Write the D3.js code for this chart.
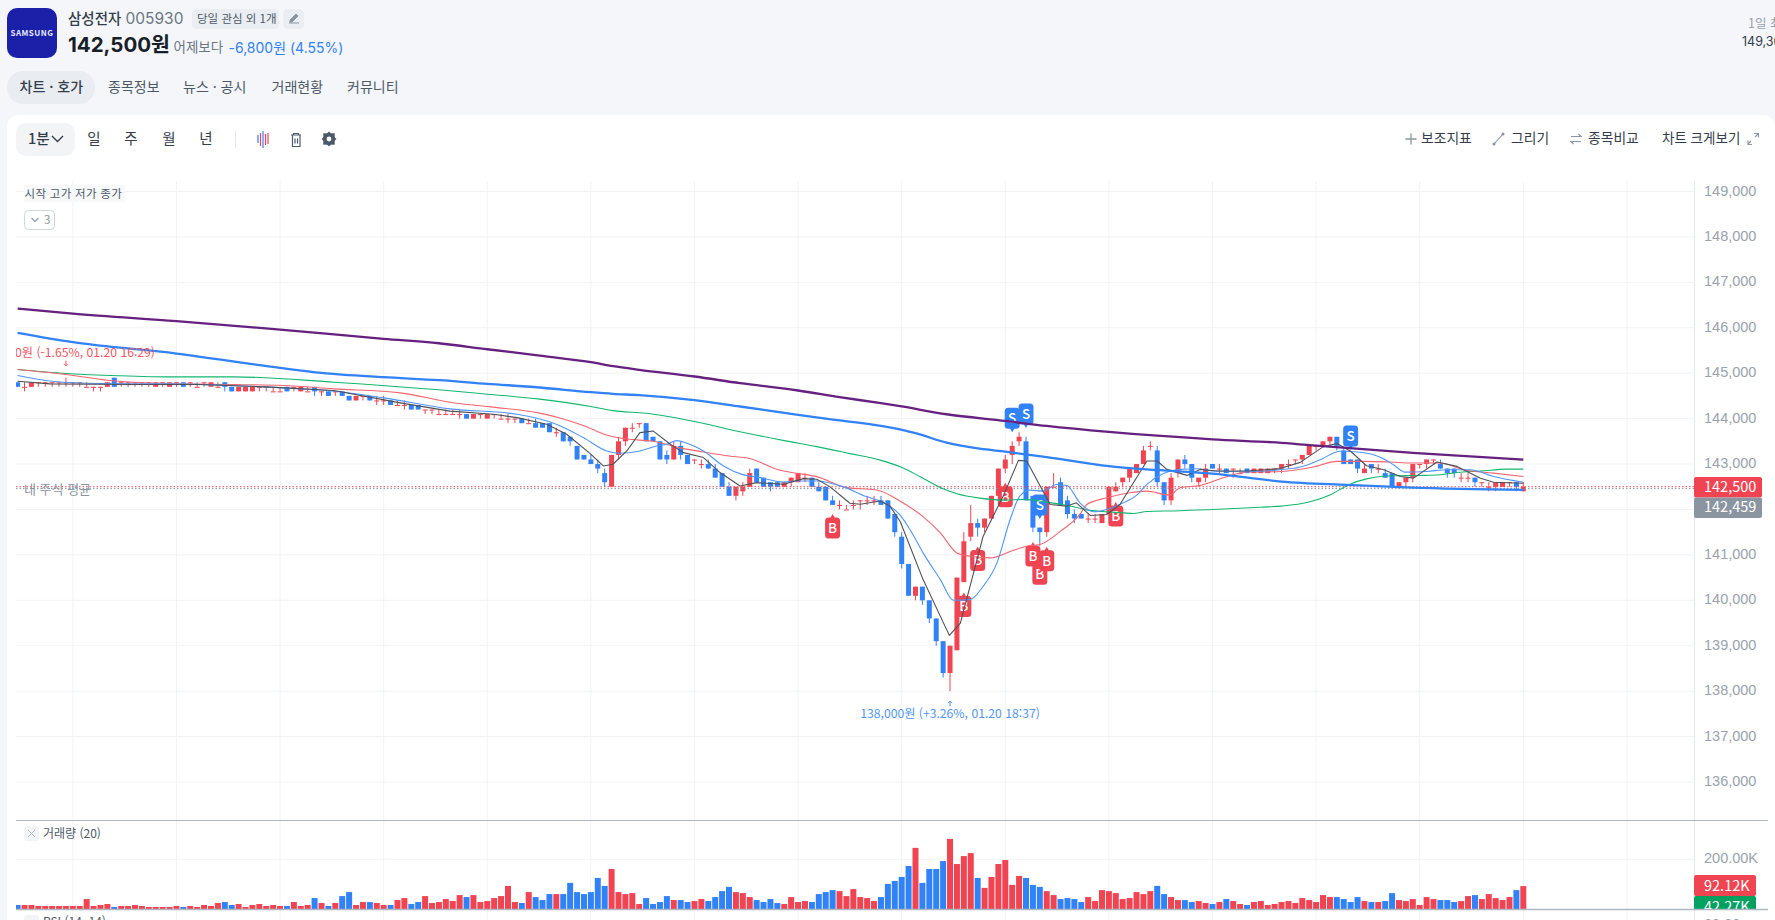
<!DOCTYPE html>
<html lang="ko">
<head>
<meta charset="utf-8">
<title>삼성전자 차트</title>
<script src="https://cdnjs.cloudflare.com/ajax/libs/d3/7.8.5/d3.min.js"></script>
<style>
html,body{margin:0;padding:0;background:#f4f6f9;overflow:hidden}
svg{display:block;font-family:"Noto Sans CJK KR","Noto Sans",sans-serif}
.latin{font-family:Inter,"Noto Sans CJK KR",sans-serif}
</style>
</head>
<body>
<div id="chart"></div>
<script>
// One-minute candles, oldest first
const opens = [
144800,144700,144700,144800,144800,144800,144800,144800,144800,144800,
144700,144700,144700,144700,144900,144800,144800,144800,144800,144800,
144700,144800,144700,144800,144800,144800,144700,144800,144700,144700,
144800,144700,144600,144600,144600,144700,144700,144600,144600,144700,
144700,144600,144600,144700,144600,144600,144600,144600,144500,144400,
144500,144500,144400,144400,144400,144300,144300,144300,144300,144200,
144200,144100,144100,144100,144100,144100,144000,144100,144000,144100,
144000,144000,144000,144000,143900,143900,143900,143900,143700,143700,
143600,143400,143200,143100,143000,142800,142500,143200,143500,143800,
143900,143900,143600,143500,143200,143100,143400,143200,143100,143000,
143000,142900,142800,142500,142300,142400,142500,142900,142700,142600,
142600,142500,142600,142600,142700,142700,142500,142500,142200,142100,
142000,142100,142200,142200,142200,142200,142200,141900,141400,140800,
140100,140300,140000,139600,139100,138400,138900,140400,141400,141700,
141600,141800,142300,142900,143200,143500,143500,142300,141600,141500,
142500,142600,142200,141900,141900,141800,141800,141700,141900,142400,
142600,142700,142800,143000,143400,143300,142600,142200,142800,143100,
143000,142600,142700,143000,142900,142900,142900,142800,142900,142800,
142800,142800,142900,142900,143000,143100,143100,143200,143400,143400,
143500,143600,143300,143100,143100,142800,143000,142900,142800,142800,
142500,142600,142700,143000,143000,143100,143000,142900,142900,142700,
142700,142700,142600,142500,142500,142500,142600,142600,142400];
const highs = [
144800,144800,144800,144800,144800,144800,144800,144900,144800,144800,
144800,144700,144700,144800,144900,144800,144800,144800,144800,144800,
144800,144800,144800,144800,144800,144800,144800,144800,144800,144800,
144800,144700,144700,144700,144700,144700,144700,144700,144700,144700,
144700,144700,144700,144700,144600,144600,144600,144600,144500,144500,
144500,144500,144500,144500,144400,144400,144400,144300,144300,144200,
144200,144200,144200,144200,144200,144100,144100,144100,144100,144100,
144100,144100,144000,144000,144000,144000,143900,143900,143800,143700,
143600,143400,143200,143200,143100,142900,143200,143600,143800,143900,
143900,143900,143600,143500,143300,143500,143500,143200,143100,143100,
143100,143000,142800,142600,142500,142600,142900,142900,142700,142600,
142600,142600,142700,142800,142800,142700,142600,142500,142300,142200,
142100,142200,142200,142300,142300,142300,142200,141900,141500,140800,
140300,140300,140000,139600,139100,139000,140500,141500,142100,141800,
141800,142300,142900,143200,143500,143700,143600,142300,141600,142500,
142800,142700,142300,142000,141900,141900,141900,141900,142500,142600,
142700,142900,143000,143400,143500,143400,142600,142800,143100,143200,
143000,142700,143000,143000,143000,142900,142900,142900,142900,142900,
142900,142900,142900,143000,143100,143100,143200,143400,143400,143500,
143600,143600,143400,143100,143100,143000,143000,143000,142900,142800,
142600,142700,143000,143000,143100,143100,143100,142900,142900,142800,
142800,142700,142600,142600,142600,142600,142600,142600,142600];
const lows = [
144700,144600,144700,144700,144700,144700,144700,144700,144700,144700,
144700,144600,144600,144700,144700,144700,144700,144700,144700,144700,
144700,144700,144700,144700,144700,144700,144700,144700,144700,144700,
144600,144600,144600,144600,144600,144600,144600,144600,144600,144600,
144600,144600,144600,144500,144500,144500,144500,144500,144400,144400,
144400,144400,144300,144300,144300,144300,144200,144200,144200,144100,
144100,144100,144100,144100,144000,144000,144000,144000,144000,144000,
144000,143900,143900,143900,143900,143800,143800,143700,143600,143500,
143400,143100,143100,143000,142800,142500,142500,143100,143400,143700,
143800,143500,143500,143100,143000,143100,143100,143000,143000,142900,
142900,142700,142500,142300,142200,142300,142500,142600,142500,142400,
142500,142500,142500,142600,142600,142500,142400,142200,142100,142000,
142000,142000,142000,142100,142100,142100,141800,141400,140700,140100,
140000,139900,139500,139000,138300,138000,138900,140400,141300,141400,
141500,141800,142300,142800,143000,143400,142200,141500,141200,141400,
142500,142100,141800,141700,141800,141700,141700,141700,141900,142400,
142500,142600,142800,143000,143300,142500,142100,142100,142700,142900,
142600,142500,142600,142900,142800,142800,142700,142800,142800,142800,
142800,142800,142800,142800,142900,143000,143000,143200,143300,143400,
143400,143300,143000,143000,142800,142800,142800,142800,142700,142500,
142500,142500,142600,142900,142900,143000,142900,142700,142700,142600,
142600,142500,142500,142400,142400,142500,142500,142400,142400];
const closes = [
144700,144700,144800,144800,144800,144800,144800,144800,144800,144800,
144700,144700,144700,144800,144700,144800,144800,144800,144800,144800,
144800,144800,144800,144800,144700,144800,144700,144800,144800,144700,
144700,144600,144700,144700,144700,144700,144700,144600,144600,144600,
144700,144700,144600,144600,144600,144500,144600,144500,144400,144500,
144500,144400,144400,144400,144300,144300,144300,144200,144200,144200,
144200,144100,144100,144100,144100,144000,144100,144100,144100,144100,
144000,144000,144000,143900,143900,143800,143800,143700,143700,143500,
143500,143100,143100,143000,142900,142600,143200,143500,143800,143800,
143900,143500,143500,143100,143100,143400,143200,143000,143100,143000,
142900,142700,142500,142300,142500,142500,142800,142600,142500,142500,
142500,142600,142700,142800,142700,142500,142400,142200,142100,142100,
142000,142100,142200,142200,142200,142100,141800,141500,140800,140100,
140300,140000,139600,139100,138400,139000,140500,141300,141700,141600,
141800,142300,142900,143100,143400,143600,142200,141600,141500,142500,
142500,142100,141900,141800,141800,141800,141800,141900,142500,142500,
142700,142900,143000,143300,143400,142600,142200,142700,143100,143000,
142700,142700,142900,142900,142900,142800,142900,142800,142800,142900,
142900,142900,142900,143000,143000,143100,143200,143400,143400,143500,
143600,143400,143000,143000,142900,142900,142900,142900,142700,142500,
142600,142700,143000,143000,143100,143100,142900,142800,142800,142700,
142700,142600,142600,142500,142600,142600,142600,142500,142500];

// Traded volume per candle, in thousands of shares
const volumes = [
16,16,16,12,12,12,12,12,12,12, 40,12,16,20,8,12,12,16,12,8,
8,8,8,12,8,12,8,16,12,24, 28,16,20,8,16,20,12,16,12,12,
28,12,16,44,24,12,24,52,68,16, 28,28,24,16,16,36,44,20,28,52,
24,28,40,32,56,48,56,28,32,44, 52,93,28,24,68,48,36,60,60,60,
105,68,60,68,125,93,161,68,60,64, 20,44,20,28,52,36,36,28,32,40,
32,48,72,89,68,64,48,36,28,40, 24,20,48,28,32,28,60,68,76,72,
52,80,48,44,32,48,101,113,129,173, 246,105,161,161,193,282,181,213,225,125,
85,129,181,197,97,133,125,97,89,72, 56,40,44,40,28,48,32,76,72,64,
40,44,68,60,72,93,60,48,36,36, 28,32,24,20,28,40,32,20,16,28,
32,16,20,28,32,24,44,36,28,56, 48,48,40,28,48,32,28,28,32,64,
36,32,40,16,48,40,36,36,28,32, 52,56,40,60,44,36,48,76,92.12];

// Moving averages as [candle index, price] pairs
const maPurple = [[0,146423],[8,146313],[23,146145],[38,145961],[53,145756],[61,145659],[68,145527],[75.6,145388],[83,145242],[86.2,145154],[90,145073],[98,144927],[104.6,144780],[113,144619],[119,144473],[125,144340],[128,144267],[134.5,144096],[143,143949],[149,143838],[158,143706],[173,143544],[183,143467],[189,143393],[202,143244],[218,143096]];
const maBlue = [[0,145888],[8,145682],[23,145433],[38,145117],[44,145007],[53,144912],[61,144846],[68,144766],[75.6,144685],[83,144582],[86.2,144546],[90,144516],[98,144406],[104.6,144267],[113,144084],[119,143960],[125,143838],[130,143680],[134.5,143471],[139.3,143338],[143,143272],[149,143154],[158,142956],[163.5,142882],[173,142790],[183,142615],[192.5,142541],[202,142481],[218,142430]];
const maGreen = [[0,145081],[7,144993],[13.4,144949],[21.6,144919],[31.3,144919],[45.8,144802],[61,144634],[68,144538],[75.6,144429],[83,144267],[86.2,144175],[91,144117],[98,143935],[104.6,143710],[111,143516],[115.7,143384],[120.5,143230],[125,143081],[127.8,142941],[130.7,142721],[134,142456],[136,142346],[139.3,142250],[143,142206],[145.6,142221],[149,142162],[152,142088],[155,141985],[158.6,141941],[161.5,141912],[163.5,141956],[168.3,141971],[173,142000],[180,142050],[183,142074],[187,142163],[190,142319],[193,142563],[195.3,142674],[197.3,142726],[199.4,142741],[203,142748],[206,142763],[208.4,142815],[211.8,142844],[215.6,142889],[218,142889]];
const maRed = [[0,145081],[7,144971],[13,144846],[21.6,144773],[31.3,144751],[38.5,144729],[45.8,144655],[55.4,144567],[62.6,144362],[68.5,144258],[75.6,144121],[78.5,144015],[82,143845],[85.5,143628],[88.2,143550],[92,143500],[96.4,143340],[99.3,143266],[103,143178],[106,143120],[110.4,142863],[112.8,142797],[115.7,142723],[120,142481],[124.4,142430],[127.8,142180],[131,141853],[133.6,141485],[136,141044],[137.9,140971],[140.8,140934],[144.2,141103],[146.1,141191],[148,141228],[151,141522],[153.8,141890],[154.8,142110],[157.7,142257],[161,142368],[163.5,142404],[166.8,142316],[168.3,142478],[171.2,142529],[175,142721],[178,142824],[183,142837],[187.6,142933],[191,143059],[194.9,143059],[198.7,143044],[202,143022],[206,143022],[209.4,142874],[213.7,142800],[218,142726]];
const maLight = [[0,144949],[5,144824],[12,144773],[21.6,144765],[31,144729],[41,144655],[45.8,144604],[53,144457],[62.6,144215],[72.3,144095],[78,143875],[81.9,143582],[85.3,143288],[87.2,143237],[90.1,143288],[92.5,143398],[94,143435],[95.4,143516],[97.3,143435],[99.3,143288],[102.2,142958],[105,142767],[107.5,142701],[110.9,142606],[112.8,142628],[115.7,142628],[119.5,142503],[122.9,142283],[125,142180],[126.3,142074],[127.8,141868],[129.2,141559],[131.1,141044],[133.6,140456],[135.5,140000],[137.9,140015],[139.8,140309],[141.8,140824],[143.7,141779],[145.1,142294],[146.6,142426],[148.5,142404],[150.4,142551],[151.9,142529],[153.8,142147],[155.8,141949],[157.7,142000],[160.1,142147],[162,142309],[163.5,142551],[165.9,142794],[168.3,142882],[170.7,142897],[173.1,142846],[178,142831],[182.8,142874],[185.7,142933],[188.6,143096],[191.5,143281],[194.4,143259],[197.3,143148],[199.2,142985],[200.9,142822],[204,142837],[207,142874],[210.3,142874],[213.7,142726],[218,142600]];
const maBlack = [[0,144824],[4.7,144765],[16.8,144751],[26.4,144751],[36,144699],[45.8,144618],[55.4,144347],[62.6,144165],[68.9,144095],[72.3,144022],[76.6,143875],[79.5,143655],[82.9,143230],[84.8,142958],[86.2,142995],[88.2,143288],[90.1,143692],[92,143729],[94.5,143435],[96.4,143252],[99.3,143142],[101.7,142812],[104.6,142518],[107,142591],[110.9,142555],[113.8,142679],[115.7,142665],[117.6,142503],[120.5,142136],[122,142114],[124.9,142188],[126.3,142074],[127.8,141730],[131.1,140456],[134.9,139228],[136.5,139500],[139.8,141412],[142.7,142294],[144.9,143081],[146.1,143066],[149.5,142110],[151.9,142074],[153.3,142147],[155.3,141868],[157.7,141890],[159.6,142110],[163.5,143066],[165,143066],[166.4,142882],[169.3,142750],[171.2,142882],[173.6,142846],[178,142846],[182.8,142900],[185.7,143037],[189,143378],[191,143452],[193,143281],[195.3,142963],[197.8,142874],[200.2,142726],[202.1,142689],[205.5,143044],[208.4,142948],[211.8,142689],[213.7,142600],[218,142578]];

// Trade badges on the price pane
const buyIndex = [118,137,139,143,147,148,149,159];
const buyPrice = [141594,139861,140874,142282,140977,140575,140872,141858];
const sellIndex = [144,146,148,193];
const sellPrice = [144008,144103,142100,143619];

// Axis ticks and reference levels
const priceTicks = [149000,148000,147000,146000,145000,144000,143000,142000,141000,140000,139000,138000,137000,136000];
const priceLabels = priceTicks.filter(p => p !== 142000);
const volumeTicks = [200];
const lastPrice = 142500;
const myAverage = 142459;
const lastVolume = 92.12;
const avgVolume = 42.27;
const gridIndex = [8,23,38,53,68,83,98,113,128,143,158,173,188,203,218,233];

const W = 1775, H = 920;
const RED = "#f04452", BLUE = "#3182f6", GRID = "#f2f3f5", AXIS = "#e5e8eb", TICK = "#9aa2ad", INK = "#333d4b";

const svg = d3.select("#chart").append("svg").attr("width", W).attr("height", H).attr("viewBox", `0 0 ${W} ${H}`);

const x = d3.scaleLinear().domain([0, 218]).range([17.6, 1523.3]);
const y = d3.scaleLinear().domain([136000, 149000]).range([782, 191.5]);
const yVol = d3.scaleLinear().domain([0, 200]).range([909, 859.3]);

function label(g, s, px, py, size, fill, opts = {}) {
  return g.append("text").attr("x", px).attr("y", py).attr("dy", "0.36em")
    .attr("font-size", size).attr("fill", fill)
    .attr("font-weight", opts.weight || 400)
    .attr("text-anchor", opts.anchor || "start")
    .attr("letter-spacing", opts.spacing || null)
    .attr("class", opts.cls || null)
    .text(s);
}

// Page header
const head = svg.append("g");
head.append("rect").attr("x", 7).attr("y", 8).attr("width", 50).attr("height", 50).attr("rx", 10).attr("fill", "#1a20a8");
label(head, "SAMSUNG", 32, 33, 8, "#e8eaff", {anchor: "middle", weight: 700, spacing: 0.5});
label(head, "삼성전자", 68, 18.5, 14.5, INK, {weight: 500});
label(head, "005930", 125.5, 18.5, 15.5, "#6b7684", {cls: "latin"});
head.append("rect").attr("x", 192).attr("y", 9).attr("width", 87).attr("height", 20).attr("rx", 5).attr("fill", "#eaedf1");
label(head, "당일 관심 외 1개", 197, 19, 11.5, "#4e5968");
head.append("rect").attr("x", 283).attr("y", 9).attr("width", 21).attr("height", 20).attr("rx", 5).attr("fill", "#eaedf1");
head.append("path").attr("d", "M289 23h10 M290 20l6-6 2 2-6 6h-2z").attr("fill", "#8b95a1").attr("stroke", "#8b95a1").attr("stroke-width", 1);
label(head, "142,500원", 68, 45, 20.5, "#191f28", {weight: 700, cls: "latin"});
label(head, "어제보다", 173.5, 47.5, 13.5, "#6b7684");
label(head, "-6,800원 (4.55%)", 228.5, 47.5, 14, BLUE, {cls: "latin"});
head.append("rect").attr("x", 7).attr("y", 71).attr("width", 88).attr("height", 33).attr("rx", 16).attr("fill", "#e9ecf0");
label(head, "차트 · 호가", 19.5, 87, 14, INK, {weight: 500});
[["종목정보", 108], ["뉴스 · 공시", 183], ["거래현황", 271.5], ["커뮤니티", 347]].forEach(([t, px]) => label(head, t, px, 87, 14, "#4e5968"));
label(head, "1일 최고", 1748, 23, 12.5, "#9aa2ad");
label(head, "149,300", 1742, 41.5, 12.5, INK, {cls: "latin"});

// White chart card
svg.append("path").attr("d", `M7 ${H}V127a12 12 0 0 1 12-12H${W - 12}a12 12 0 0 1 12 12V${H}z`).attr("fill", "#fff");

// Toolbar
const bar = svg.append("g");
bar.append("rect").attr("x", 16).attr("y", 123).attr("width", 59).attr("height", 33).attr("rx", 10).attr("fill", "#f2f4f6");
label(bar, "1분", 28, 138.5, 14.5, INK, {weight: 500});
bar.append("path").attr("d", "M52 136l5.5 5.5 5.5-5.5").attr("fill", "none").attr("stroke", INK).attr("stroke-width", 1.4);
[["일", 94], ["주", 131], ["월", 169], ["년", 206]].forEach(([t, px]) => label(bar, t, px, 138.5, 14.5, INK, {anchor: "middle"}));
bar.append("line").attr("x1", 235.5).attr("x2", 235.5).attr("y1", 131).attr("y2", 148).attr("stroke", "#e5e8eb");
[[258, 135, 143, BLUE], [260.5, 133, 146, RED], [263, 131, 148, BLUE], [265.5, 134, 145, RED], [268, 133, 144, RED]].forEach(d => {
  bar.append("line").attr("x1", d[0]).attr("x2", d[0]).attr("y1", d[1]).attr("y2", d[2]).attr("stroke", d[3]).attr("stroke-width", 1.2);
});
bar.append("path").attr("d", "M291 135h10 M293.5 135v-1.5h5v1.5 M292.5 135.5v11h7.5v-11 M295 138.5v5 M297.5 138.5v5").attr("fill", "none").attr("stroke", "#4e5968").attr("stroke-width", 1.2);
bar.append("path").attr("d", d3.symbol().type(d3.symbolSquare).size(130)()).attr("transform", "translate(329,139)").attr("fill", "#4e5968");
bar.append("path").attr("d", d3.symbol().type(d3.symbolSquare).size(110)()).attr("transform", "translate(329,139) rotate(45)").attr("fill", "#4e5968");
bar.append("circle").attr("cx", 329).attr("cy", 139).attr("r", 2.4).attr("fill", "#fff");

const grayIcon = "#8b95a1";
bar.append("path").attr("d", "M1405.5 139h11 M1411 133.5v11").attr("stroke", grayIcon).attr("stroke-width", 1.3);
label(bar, "보조지표", 1421, 138, 13.8, INK, {weight: 400});
bar.append("path").attr("d", "M1494 144l9-10").attr("stroke", grayIcon).attr("stroke-width", 1.1);
bar.selectAll(".dot").data([[1494, 144], [1503, 134]]).join("circle").attr("cx", d => d[0]).attr("cy", d => d[1]).attr("r", 1.5).attr("fill", grayIcon);
label(bar, "그리기", 1511, 138, 13.8, INK, {weight: 400});
bar.append("path").attr("d", "M1571 136.5h10l-2.5-2.5 M1581 141.5h-10l2.5 2.5").attr("fill", "none").attr("stroke", grayIcon).attr("stroke-width", 1.2);
label(bar, "종목비교", 1588, 138, 13.8, INK, {weight: 400});
label(bar, "차트 크게보기", 1662, 138, 13.5, INK, {weight: 400});
bar.append("path").attr("d", "M1748 144l3-3 M1748 140.5v4h4 M1758 134l-3 3 M1754 133.5h4.5v4").attr("fill", "none").attr("stroke", grayIcon).attr("stroke-width", 1.1);

// Clip regions for the two panes
const defs = svg.append("defs");
defs.append("clipPath").attr("id", "priceClip").append("rect").attr("x", 16).attr("y", 181).attr("width", 1678).attr("height", 639);
defs.append("clipPath").attr("id", "volClip").append("rect").attr("x", 16).attr("y", 821).attr("width", 1678).attr("height", 88);
defs.append("clipPath").attr("id", "volLabelClip").append("rect").attr("x", 1694).attr("y", 821).attr("width", 81).attr("height", 88);

// Grid
const grid = svg.append("g").attr("stroke", GRID).attr("stroke-width", 1);
grid.selectAll(".v").data(gridIndex).join("line").attr("class", "v")
  .attr("x1", d => x(d)).attr("x2", d => x(d)).attr("y1", 181).attr("y2", H);
grid.selectAll(".h").data(priceTicks).join("line").attr("class", "h")
  .attr("x1", 16).attr("x2", 1694).attr("y1", d => y(d)).attr("y2", d => y(d));
grid.selectAll(".hv").data(volumeTicks).join("line").attr("class", "hv")
  .attr("x1", 16).attr("x2", 1694).attr("y1", d => yVol(d)).attr("y2", d => yVol(d));
svg.append("line").attr("x1", 1694.5).attr("x2", 1694.5).attr("y1", 181).attr("y2", H).attr("stroke", AXIS);

// Price pane: candles
const pane = svg.append("g").attr("clip-path", "url(#priceClip)");
const idx = d3.range(closes.length);
const colorOf = i => closes[i] >= opens[i] ? RED : BLUE;
const candleWidth = 5;

pane.append("g").selectAll("line").data(idx).join("line")
  .attr("x1", i => x(i)).attr("x2", i => x(i))
  .attr("y1", i => y(highs[i])).attr("y2", i => y(lows[i]))
  .attr("stroke", colorOf).attr("stroke-width", 1);
pane.append("g").selectAll("rect").data(idx).join("rect")
  .attr("x", i => x(i) - candleWidth / 2).attr("width", candleWidth)
  .attr("y", i => y(Math.max(opens[i], closes[i])))
  .attr("height", i => Math.max(1, Math.abs(y(opens[i]) - y(closes[i]))))
  .attr("fill", colorOf);

// Reference levels
pane.append("line").attr("x1", 16).attr("x2", 1694).attr("y1", y(lastPrice)).attr("y2", y(lastPrice))
  .attr("stroke", RED).attr("stroke-width", 1).attr("stroke-dasharray", "1.5 2");
pane.append("line").attr("x1", 16).attr("x2", 1694).attr("y1", y(myAverage)).attr("y2", y(myAverage))
  .attr("stroke", "#8b95a1").attr("stroke-width", 1).attr("stroke-dasharray", "1.5 2");
label(pane, "내 주식 평균", 24, 489.5, 13, "#8b95a1");

// Buy and sell badges
function badgePath(up) {
  const w = 7.5, h = 10.5, r = 3.5, t = 3.5;
  if (up) return `M0 ${-h - t}L${w - r - 2} ${-h}H${w - r}a${r} ${r} 0 0 1 ${r} ${r}V${h - r}a${r} ${r} 0 0 1 ${-r} ${r}H${-w + r}a${r} ${r} 0 0 1 ${-r} ${-r}V${-h + r}a${r} ${r} 0 0 1 ${r} ${-r}H${-w + r + 2}z`;
  return `M0 ${h + t}L${-w + r + 2} ${h}H${-w + r}a${r} ${r} 0 0 1 ${-r} ${-r}V${-h + r}a${r} ${r} 0 0 1 ${r} ${-r}H${w - r}a${r} ${r} 0 0 1 ${r} ${r}V${h - r}a${r} ${r} 0 0 1 ${-r} ${r}H${w - r - 2}z`;
}
function badges(indexes, prices, letter, fill, up) {
  indexes.forEach((ix, k) => {
    const g = pane.append("g").attr("transform", `translate(${x(ix)},${y(prices[k])})`);
    g.append("path").attr("d", badgePath(up)).attr("fill", fill);
    label(g, letter, 0, 0, 13.5, "#fff", {anchor: "middle", weight: 500});
  });
}
badges(buyIndex, buyPrice, "B", RED, true);
badges(sellIndex, sellPrice, "S", BLUE, false);

// Moving averages sit above the candles and badges
const lineGen = d3.line().x(d => x(d[0])).y(d => y(d[1]));
function drawMA(data, color, width, curve) {
  pane.append("path").datum(data).attr("fill", "none").attr("stroke", color).attr("stroke-width", width)
    .attr("stroke-linejoin", "round").attr("d", lineGen.curve(curve)(data));
}
drawMA(maGreen, "#12b76f", 1.1, d3.curveMonotoneX);
drawMA(maRed, "#f4646f", 1.1, d3.curveMonotoneX);
drawMA(maLight, "#4f96f7", 1.1, d3.curveMonotoneX);
drawMA(maBlack, "#4e5058", 1.1, d3.curveLinear);
drawMA(maBlue, "#3182f6", 2.3, d3.curveMonotoneX);
drawMA(maPurple, "#66207f", 2.3, d3.curveMonotoneX);

// High and low callouts
const highIdx = highs.indexOf(144900);
const lowIdx = lows.indexOf(d3.min(lows));
pane.append("path").attr("d", "M0 -3v5 M-2 0l2 2 2-2").attr("transform", `translate(${x(highIdx)},${y(highs[highIdx]) - 14})`)
  .attr("fill", "none").attr("stroke", "#f2555f").attr("stroke-width", 1);
label(pane, "144,900원 (-1.65%, 01.20 16:29)", 155, 352.5, 12.2, "#f2555f", {anchor: "end"});
pane.append("path").attr("d", "M0 3v-5 M-2 0l2-2 2 2").attr("transform", `translate(${x(lowIdx)},${y(lows[lowIdx]) + 12})`)
  .attr("fill", "none").attr("stroke", "#4f96f7").attr("stroke-width", 1);
label(pane, "138,000원 (+3.26%, 01.20 18:37)", x(lowIdx), 714, 12.2, "#4f96f7", {anchor: "middle"});

// Pane header
svg.append("rect").attr("x", 24).attr("y", 185).attr("width", 101).attr("height", 17).attr("fill", "#f7f8fa");
label(svg, "시작 고가 저가 종가", 24.5, 193.5, 11.5, "#4e5968", {spacing: 0.3});
svg.append("rect").attr("x", 24.5).attr("y", 210.5).attr("width", 30).attr("height", 19).attr("rx", 4).attr("fill", "#fff").attr("stroke", "#d1d6db");
svg.append("path").attr("d", "M31.5 218l3.5 3.5 3.5-3.5").attr("fill", "none").attr("stroke", "#8b95a1").attr("stroke-width", 1.1);
label(svg, "3", 44, 220, 11.5, "#8b95a1");

// Price axis; the 142,000 level sits behind the level tags, so only its grid line is drawn
const priceAxis = d3.axisRight(y).tickValues(priceLabels).tickSize(0).tickPadding(10).tickFormat(d3.format(","));
const pa = svg.append("g").attr("transform", "translate(1694,-1)").call(priceAxis);
pa.select(".domain").remove();
pa.selectAll("text").attr("font-size", 14.5).attr("fill", TICK).attr("font-family", "inherit");

// Level tags on the axis
function tag(g, top, h, w, fill) {
  g.append("rect").attr("x", 1694).attr("y", top).attr("width", w).attr("height", h).attr("rx", 2).attr("fill", fill);
}
tag(svg, 477, 20.5, 68, RED);
label(svg, d3.format(",")(lastPrice), 1704, 487, 14.5, "#fff");
tag(svg, 497.5, 20.5, 68, "#8b95a1");
label(svg, d3.format(",")(myAverage), 1704, 507, 14.5, "#fff");

// Volume pane
svg.append("line").attr("x1", 16).attr("x2", 1768).attr("y1", 820.5).attr("y2", 820.5).attr("stroke", "#aeb8c2").attr("stroke-width", 1.2);
const vol = svg.append("g").attr("clip-path", "url(#volClip)");
vol.selectAll("rect").data(idx).join("rect")
  .attr("x", i => x(i) - 3).attr("width", 6)
  .attr("y", i => yVol(volumes[i]))
  .attr("height", i => yVol(0) - yVol(volumes[i]))
  .attr("fill", colorOf);
svg.append("rect").attr("x", 24).attr("y", 826).attr("width", 15).attr("height", 15).attr("rx", 3).attr("fill", "#f2f4f6");
svg.append("path").attr("d", "M28 830l7 7 M35 830l-7 7").attr("stroke", "#b0b8c1").attr("stroke-width", 1);
label(svg, "거래량 (20)", 43, 833.5, 12, "#4e5968");

const volumeAxis = d3.axisRight(yVol).tickValues(volumeTicks).tickSize(0).tickPadding(10).tickFormat(d => d3.format(".2f")(d) + "K");
const va = svg.append("g").attr("transform", "translate(1694,-1)").call(volumeAxis);
va.select(".domain").remove();
va.selectAll("text").attr("font-size", 14.5).attr("fill", TICK).attr("font-family", "inherit");

const volTags = svg.append("g").attr("clip-path", "url(#volLabelClip)");
tag(volTags, 875, 21, 62, RED);
label(volTags, lastVolume.toFixed(2) + "K", 1704, 885.5, 14.5, "#fff");
tag(volTags, 896, 21, 62, "#03a15f");
label(volTags, avgVolume.toFixed(2) + "K", 1704, 906.5, 14.5, "#fff");

svg.append("line").attr("x1", 16).attr("x2", 1768).attr("y1", 909.5).attr("y2", 909.5).attr("stroke", "#aeb8c2").attr("stroke-width", 1.5);

// RSI pane header, cut by the window edge
svg.append("rect").attr("x", 24).attr("y", 915).attr("width", 15).attr("height", 15).attr("rx", 3).attr("fill", "#f2f4f6");
label(svg, "RSI (14, 14)", 43, 922, 12, "#4e5968");
label(svg, "80.00", 1704, 925, 14.5, TICK);
</script>
</body>
</html>
